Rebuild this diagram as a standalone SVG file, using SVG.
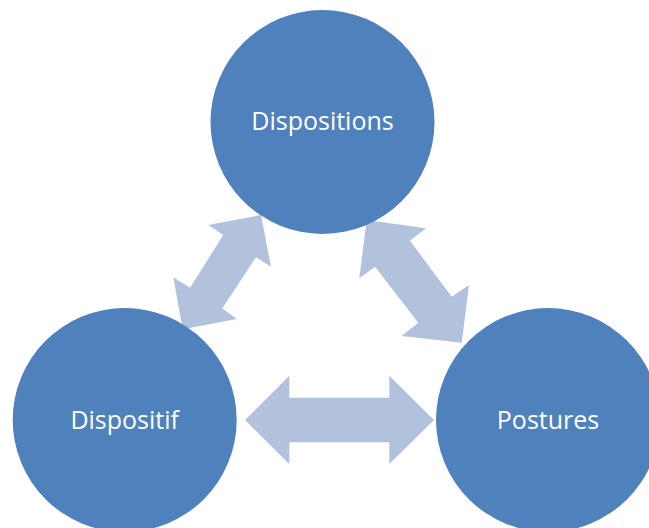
<svg xmlns="http://www.w3.org/2000/svg" width="649" height="528" viewBox="0 0 649 528">
<style>
.node{fill:#4f81bd}
.lbl{fill:#ffffff;font-family:"Open Sans","Noto Sans",sans-serif;font-size:25px;text-anchor:middle}
.arrow{fill:#b3c2dc}
</style>
<rect width="649" height="528" fill="#ffffff"/>
<g id="connectors">
<polygon class="arrow" points="245,420 289.3,375.7 289.3,397.7 389.3,397.7 389.3,375.7 434,420 389.3,464 389.3,442.3 289.3,442.3 289.3,464"/>
<polygon class="arrow" points="261,215 271,266.7 256,257.3 222.3,308.3 236.7,319 182.7,329.3 173.3,277.3 190,287.7 223.3,235 208.3,225"/>
<polygon class="arrow" points="366.7,220 426,228.3 410,240.7 451.7,296.7 469,285 461.7,342.7 401.7,336 418.3,322.7 375,266.7 359.3,278.3"/>
</g>
<g id="dispositions">
<circle class="node" cx="322.5" cy="122" r="112"/>
<text class="lbl" x="322.5" y="130">Dispositions</text>
</g>
<g id="dispositif">
<circle class="node" cx="124.7" cy="420" r="112"/>
<text class="lbl" x="124.7" y="428.5">Dispositif</text>
</g>
<g id="postures">
<circle class="node" cx="548" cy="420" r="112"/>
<text class="lbl" x="548" y="428.5">Postures</text>
</g>
</svg>
